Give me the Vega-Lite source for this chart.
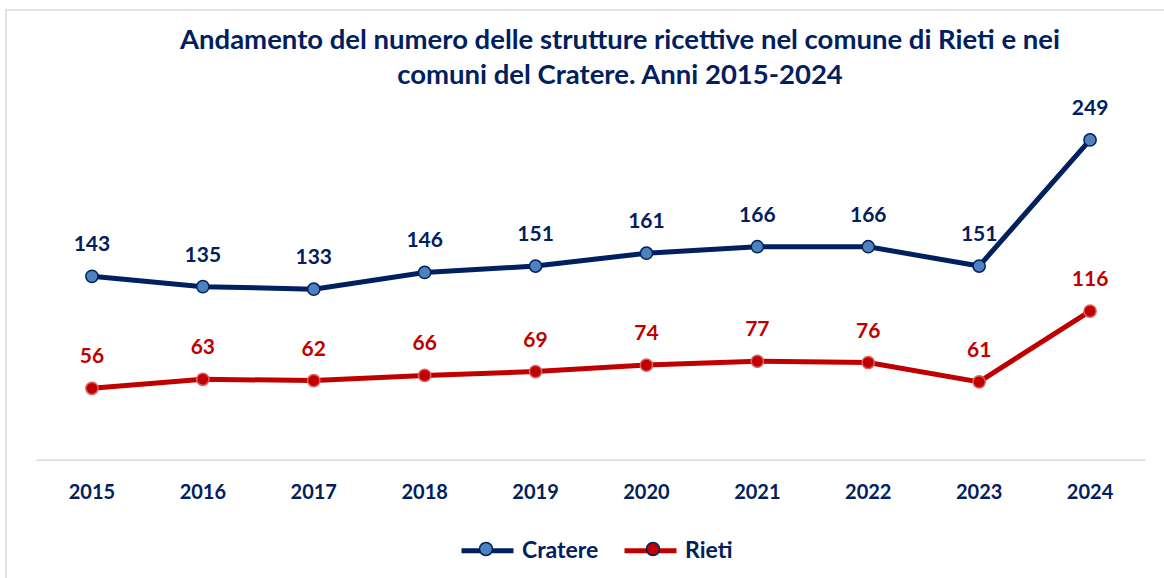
{
  "$schema": "https://vega.github.io/schema/vega-lite/v6.json",
  "width": 1170,
  "height": 579,
  "autosize": "none",
  "padding": {"left": 6, "top": 10, "right": 0, "bottom": 0},
  "background": "white",
  "config": {"view": {"stroke": "#d9d9d9", "strokeWidth": 1.5}, "font": "Lato"},
  "title": {
    "text": ["Andamento del numero delle strutture ricettive nel comune di Rieti e nei", "comuni del Cratere. Anni 2015-2024"],
    "anchor": "middle",
    "frame": "group",
    "offset": -79,
    "dx": 29,
    "font": "Lato",
    "fontSize": 27.5,
    "fontWeight": "bold",
    "color": "#002060",
    "lineHeight": 35
  },
  "data": {
    "values": [
      {"serie": "Cratere", "anno": "2015", "valore": 143},
      {"serie": "Cratere", "anno": "2016", "valore": 135},
      {"serie": "Cratere", "anno": "2017", "valore": 133},
      {"serie": "Cratere", "anno": "2018", "valore": 146},
      {"serie": "Cratere", "anno": "2019", "valore": 151},
      {"serie": "Cratere", "anno": "2020", "valore": 161},
      {"serie": "Cratere", "anno": "2021", "valore": 166},
      {"serie": "Cratere", "anno": "2022", "valore": 166},
      {"serie": "Cratere", "anno": "2023", "valore": 151},
      {"serie": "Cratere", "anno": "2024", "valore": 249},
      {"serie": "Rieti", "anno": "2015", "valore": 56},
      {"serie": "Rieti", "anno": "2016", "valore": 63},
      {"serie": "Rieti", "anno": "2017", "valore": 62},
      {"serie": "Rieti", "anno": "2018", "valore": 66},
      {"serie": "Rieti", "anno": "2019", "valore": 69},
      {"serie": "Rieti", "anno": "2020", "valore": 74},
      {"serie": "Rieti", "anno": "2021", "valore": 77},
      {"serie": "Rieti", "anno": "2022", "valore": 76},
      {"serie": "Rieti", "anno": "2023", "valore": 61},
      {"serie": "Rieti", "anno": "2024", "valore": 116}
    ]
  },
  "encoding": {
    "x": {
      "field": "anno",
      "type": "ordinal",
      "scale": {"type": "band", "paddingInner": 0, "paddingOuter": 0.275},
      "axis": {
        "orient": "bottom",
        "offset": -128,
        "domain": false,
        "ticks": false,
        "grid": false,
        "labelAngle": 0,
        "labelFont": "Lato",
        "labelFontSize": 20,
        "labelFontWeight": "bold",
        "labelColor": "#002060",
        "labelPadding": 21,
        "title": null
      }
    }
  },
  "layer": [
    {
      "data": {"values": [{"anno": "2015"}, {"anno": "2016"}, {"anno": "2017"}, {"anno": "2018"}, {"anno": "2019"}, {"anno": "2020"}, {"anno": "2021"}, {"anno": "2022"}, {"anno": "2023"}, {"anno": "2024"}]},
      "mark": {"type": "tick", "orient": "horizontal", "size": 111, "thickness": 1.5, "color": "#d9d9d9", "opacity": 1},
      "encoding": {
        "y": {"datum": 0, "type": "quantitative", "scale": {"domain": [-100, 350], "nice": false, "zero": false}, "axis": null}
      }
    },
    {
      "mark": {"type": "line", "strokeWidth": 5},
      "encoding": {
        "y": {"field": "valore", "type": "quantitative", "scale": {"domain": [-100, 350], "nice": false, "zero": false}, "axis": null},
        "stroke": {
          "field": "serie",
          "type": "nominal",
          "scale": {"range": ["#002060", "#C00000"]},
          "legend": {
            "orient": "none",
            "legendX": 453,
            "legendY": 512,
            "direction": "horizontal",
            "title": null,
            "symbolType": "stroke",
            "symbolSize": 2704,
            "symbolStrokeWidth": 5,
            "labelFont": "Lato",
            "labelFontSize": 23,
            "labelFontWeight": "bold",
            "labelColor": "#002060",
            "labelOffset": 6,
            "columnPadding": 15
          }
        }
      }
    },
    {
      "mark": {"type": "circle", "size": 150, "strokeWidth": 1.5, "opacity": 1},
      "encoding": {
        "y": {"field": "valore", "type": "quantitative", "axis": null},
        "fill": {
          "field": "serie",
          "type": "nominal",
          "scale": {"domain": ["Cratere", "Rieti"], "range": ["#4F81BD", "#C00000"]},
          "legend": {
            "orient": "none",
            "legendX": 453,
            "legendY": 512,
            "direction": "horizontal",
            "title": null,
            "symbolType": "M-1,0M1,0M0.25,0A0.25,0.25 0 1 1 -0.25,0A0.25,0.25 0 1 1 0.25,0Z",
            "symbolSize": 2704,
            "symbolStrokeWidth": 1.5,
            "symbolOpacity": 1,
            "labelExpr": "''",
            "labelFont": "Lato",
            "labelFontSize": 23,
            "labelOffset": 6,
            "columnPadding": 105,
            "encode": {
              "symbols": {
                "update": {
                  "stroke": [{"test": "datum.value === 'Rieti'", "value": "#E06060"}, {"value": "#002060"}],
                  "strokeWidth": {"value": 1.5}
                }
              }
            }
          }
        },
        "stroke": {"condition": {"test": "datum.serie === 'Rieti'", "value": "#E06060"}, "value": "#002060"}
      }
    },
    {
      "mark": {"type": "text", "dy": -31, "font": "Lato", "fontSize": 21, "fontWeight": "bold", "baseline": "middle"},
      "encoding": {
        "y": {"field": "valore", "type": "quantitative", "axis": null},
        "text": {"field": "valore", "type": "quantitative"},
        "color": {"condition": {"test": "datum.serie === 'Rieti'", "value": "#C00000"}, "value": "#002060"}
      }
    }
  ]
}
